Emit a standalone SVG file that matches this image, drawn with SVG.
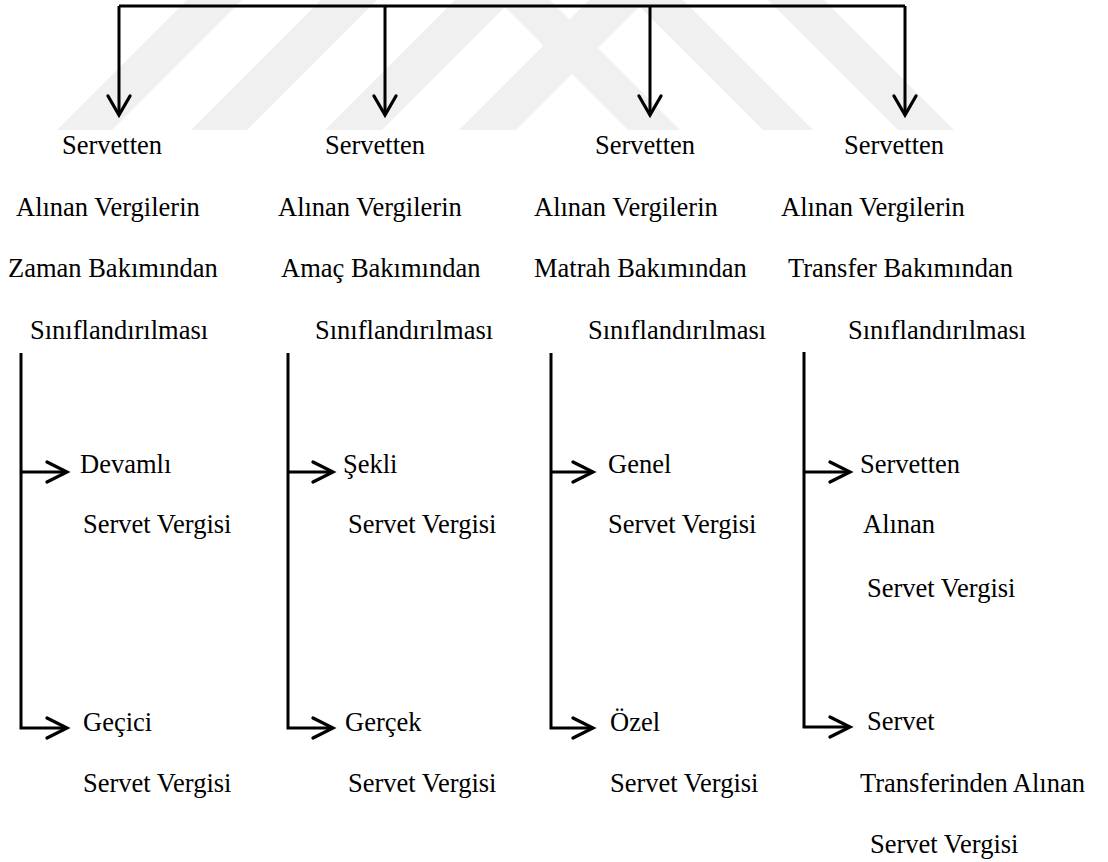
<svg xmlns="http://www.w3.org/2000/svg" width="1108" height="862" viewBox="0 0 1108 862">
<style>
text{font-family:"Liberation Serif","Times New Roman",serif;font-size:26.5px;fill:#000}
.ln{stroke:#000;stroke-width:3;fill:none}
.ah{stroke:#000;stroke-width:3.2;fill:none;stroke-linecap:round;stroke-linejoin:miter}
.wm{fill:#f0f0f0}
</style>
<rect width="1108" height="862" fill="#fff"/>
<g id="watermark">
<polygon class="wm" points="57,130 112,130 242,0 187,0"/>
<polygon class="wm" points="191,130 247,130 377,0 321,0"/>
<polygon class="wm" points="325,130 382,130 512,0 455,0"/>
<polygon class="wm" points="459,130 516,130 646,0 589,0"/>
<polygon class="wm" points="628,130 680,130 550,0 498,0"/>
<polygon class="wm" points="763,130 813,130 683,0 633,0"/>
<polygon class="wm" points="898,130 954,130 824,0 768,0"/>
</g>
<g id="connectors">
<path class="ln" d="M119,6 H905 M119,6 V114 M385,6 V114 M650,6 V114 M905,6 V114"/>
<path class="ah" d="M108,96 L119,115 L130,96 M374,96 L385,115 L396,96 M639,96 L650,115 L661,96 M894,96 L905,115 L916,96"/>
<path class="ln" d="M21,353 V728 H66 M21,472 H66 M288,353 V728 H332 M288,472 H332 M551,353 V728 H592 M551,472 H592 M804,352 V727 H849 M804,472 H849"/>
<path class="ah" d="M47,462 L67,472 L47,482 M47,718 L67,728 L47,738 M313,462 L333,472 L313,482 M313,718 L333,728 L313,738 M573,462 L593,472 L573,482 M573,718 L593,728 L573,738 M830,462 L850,472 L830,482 M830,717 L850,727 L830,737"/>
</g>
<g id="node-zaman">
<text x="62" y="154">Servetten</text>
<text x="16" y="216">Alınan Vergilerin</text>
<text x="8" y="277">Zaman Bakımından</text>
<text x="30" y="339">Sınıflandırılması</text>
</g>
<g id="node-amac">
<text x="325" y="154">Servetten</text>
<text x="278" y="216">Alınan Vergilerin</text>
<text x="281" y="277">Amaç Bakımından</text>
<text x="315" y="339">Sınıflandırılması</text>
</g>
<g id="node-matrah">
<text x="595" y="154">Servetten</text>
<text x="534" y="216">Alınan Vergilerin</text>
<text x="534" y="277">Matrah Bakımından</text>
<text x="588" y="339">Sınıflandırılması</text>
</g>
<g id="node-transfer">
<text x="844" y="154">Servetten</text>
<text x="781" y="216">Alınan Vergilerin</text>
<text x="788" y="277">Transfer Bakımından</text>
<text x="848" y="339">Sınıflandırılması</text>
</g>
<g id="node-devamli">
<text x="80" y="473">Devamlı</text>
<text x="83" y="533">Servet Vergisi</text>
</g>
<g id="node-gecici">
<text x="83" y="731">Geçici</text>
<text x="83" y="792">Servet Vergisi</text>
</g>
<g id="node-sekli">
<text x="343" y="473">Şekli</text>
<text x="348" y="533">Servet Vergisi</text>
</g>
<g id="node-gercek">
<text x="345" y="731">Gerçek</text>
<text x="348" y="792">Servet Vergisi</text>
</g>
<g id="node-genel">
<text x="608" y="473">Genel</text>
<text x="608" y="533">Servet Vergisi</text>
</g>
<g id="node-ozel">
<text x="610" y="731">Özel</text>
<text x="610" y="792">Servet Vergisi</text>
</g>
<g id="node-servetten-alinan">
<text x="860" y="473">Servetten</text>
<text x="863" y="533">Alınan</text>
<text x="867" y="597">Servet Vergisi</text>
</g>
<g id="node-servet-transfer">
<text x="867" y="730">Servet</text>
<text x="860" y="792">Transferinden Alınan</text>
<text x="870" y="853">Servet Vergisi</text>
</g>
</svg>
